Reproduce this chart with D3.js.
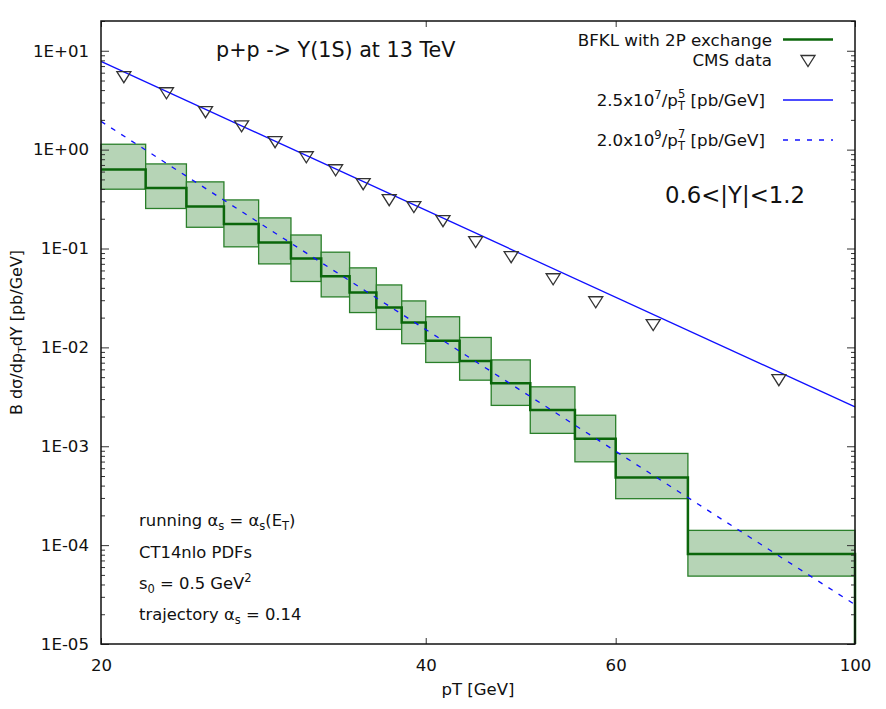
<!DOCTYPE html>
<html>
<head>
<meta charset="utf-8">
<script src="https://cdn.jsdelivr.net/npm/d3@7"></script>
<style>
  body { margin: 0; background: #fff; }
  text { font-family: "DejaVu Sans", Verdana, sans-serif; fill: #111; }
</style>
</head>
<body>
<div id="chart"></div>
<script>
///// DATA /////
var binEdges = [20, 22, 24, 26, 28, 30, 32, 34, 36, 38, 40, 43, 46, 50, 55, 60, 70, 100];
var bfklCentral = [0.629, 0.410, 0.266, 0.177, 0.115, 0.0792, 0.0525, 0.0359, 0.0253, 0.0178, 0.0117, 0.0073, 0.00435, 0.00232, 0.00119, 0.000484, 0.0000811];
var bfklUpper = [1.134, 0.717, 0.472, 0.310, 0.204, 0.137, 0.0918, 0.0637, 0.0428, 0.0295, 0.0204, 0.0126, 0.00747, 0.00399, 0.00206, 0.000846, 0.000141];
var bfklLower = [0.398, 0.254, 0.164, 0.104, 0.0699, 0.0464, 0.0324, 0.0225, 0.0152, 0.0109, 0.00704, 0.00466, 0.00259, 0.00135, 0.000696, 0.000295, 0.0000486];

var cmsPt = [21, 23, 25, 27, 29, 31, 33, 35, 37, 39, 41.5, 44.5, 48, 52.5, 57.5, 65, 85];
var cmsVal = [5.40, 3.72, 2.39, 1.72, 1.19, 0.838, 0.619, 0.447, 0.308, 0.262, 0.189, 0.116, 0.0817, 0.0489, 0.0286, 0.0168, 0.00466];

var fitPt = [20, 100];
var fitSolid = [7.8, 0.0025];      // 2.5x10^7 / pT^5
var fitDashed = [1.93, 0.000025];  // 2.0x10^9 / pT^7 curve as drawn

var xTicks = [20, 40, 60, 100];
var yMajor = [1e-5, 1e-4, 1e-3, 1e-2, 1e-1, 1, 10];

///// CANVAS /////
var width = 886;
var height = 709;
var margin = { top: 21, right: 31, bottom: 65, left: 101 };

var svg = d3.select("#chart").append("svg")
  .attr("width", width)
  .attr("height", height);

var innerW = width - margin.left - margin.right;
var innerH = height - margin.top - margin.bottom;

var x = d3.scaleLog().domain([20, 100]).range([margin.left, margin.left + innerW]);
var y = d3.scaleLog().domain([1e-5, 20]).range([margin.top + innerH, margin.top]);

var green = "#2a7f2a";
var darkGreen = "#0b660b";
var boxFill = "#b6d4b6";

// helper for text with sub/superscripts
function richText(g, px, py, parts, size, anchor) {
  var t = g.append("text").attr("x", px).attr("y", py).style("font-size", size + "px");
  parts.forEach(function (p) {
    var s = t.append("tspan").text(p.t);
    if (p.dy) s.attr("dy", p.dy);
    if (p.dx) s.attr("dx", p.dx);
    if (p.size) s.style("font-size", p.size + "px");
  });
  if (anchor === "end") {
    var w = t.node().getComputedTextLength();
    t.attr("x", px - w);
  }
  return t;
}

///// BOXES /////
var plot = svg.append("g");

var bins = bfklCentral.map(function (c, i) {
  return { lo: binEdges[i], hi: binEdges[i + 1], c: c, up: bfklUpper[i], dn: bfklLower[i] };
});

plot.selectAll("rect.band")
  .data(bins)
  .enter().append("rect")
  .attr("class", "band")
  .attr("x", function (d) { return x(d.lo); })
  .attr("width", function (d) { return x(d.hi) - x(d.lo); })
  .attr("y", function (d) { return y(d.up); })
  .attr("height", function (d) { return y(d.dn) - y(d.up); })
  .attr("fill", boxFill)
  .attr("stroke", green)
  .attr("stroke-width", 1.3);

// central step line
var stepPts = bins.map(function (d) { return [d.lo, d.c]; });
stepPts.push([100, bfklCentral[bfklCentral.length - 1]]);
stepPts.push([100, 1e-5]);

plot.append("path")
  .datum(stepPts)
  .attr("fill", "none")
  .attr("stroke", darkGreen)
  .attr("stroke-width", 2.5)
  .attr("d", d3.line()
    .x(function (d) { return x(d[0]); })
    .y(function (d) { return y(d[1]); })
    .curve(d3.curveStepAfter));

///// FIT LINES /////
var fitLine = d3.line()
  .x(function (d) { return x(d[0]); })
  .y(function (d) { return y(d[1]); });

plot.append("path")
  .datum(fitPt.map(function (p, i) { return [p, fitSolid[i]]; }))
  .attr("fill", "none")
  .attr("stroke", "#1010ff")
  .attr("stroke-width", 1.3)
  .attr("d", fitLine);

plot.append("path")
  .datum(fitPt.map(function (p, i) { return [p, fitDashed[i]]; }))
  .attr("fill", "none")
  .attr("stroke", "#1010ff")
  .attr("stroke-width", 1.3)
  .attr("stroke-dasharray", "5,7")
  .attr("d", fitLine);

///// CMS POINTS /////
var tri = "M-7,-5.5L7,-5.5L0,5.5Z";
plot.selectAll("path.cms")
  .data(cmsPt)
  .enter().append("path")
  .attr("class", "cms")
  .attr("d", tri)
  .attr("transform", function (d, i) { return "translate(" + x(d) + "," + y(cmsVal[i]) + ")"; })
  .attr("fill", "none")
  .attr("stroke", "#333")
  .attr("stroke-width", 1.3);

///// AXES /////
function yFmt(d) {
  var e = Math.round(Math.log10(d));
  return "1E" + (e < 0 ? "-" : "+") + (Math.abs(e) < 10 ? "0" : "") + Math.abs(e);
}

var yMinor = y.ticks().filter(function (v) {
  return yMajor.indexOf(v) < 0;
});

svg.append("g")
  .attr("transform", "translate(" + margin.left + ",0)")
  .call(d3.axisLeft(y).tickValues(yMajor).tickSize(-8).tickPadding(12).tickFormat(yFmt))
  .call(function (g) { g.select(".domain").remove(); });

svg.append("g")
  .attr("transform", "translate(" + margin.left + ",0)")
  .call(d3.axisLeft(y).tickValues(yMinor).tickSize(-4).tickFormat(""))
  .call(function (g) { g.select(".domain").remove(); });

svg.append("g")
  .attr("transform", "translate(" + (margin.left + innerW) + ",0)")
  .call(d3.axisRight(y).tickValues(yMajor).tickSize(-8).tickFormat(""))
  .call(function (g) { g.select(".domain").remove(); });

svg.append("g")
  .attr("transform", "translate(" + (margin.left + innerW) + ",0)")
  .call(d3.axisRight(y).tickValues(yMinor).tickSize(-4).tickFormat(""))
  .call(function (g) { g.select(".domain").remove(); });

svg.append("g")
  .attr("transform", "translate(0," + (margin.top + innerH) + ")")
  .call(d3.axisBottom(x).tickValues(xTicks).tickSize(-6).tickPadding(15).tickFormat(d3.format("d")))
  .call(function (g) { g.select(".domain").remove(); });

svg.append("g")
  .attr("transform", "translate(0," + margin.top + ")")
  .call(d3.axisTop(x).tickValues(xTicks).tickSize(-6).tickFormat(""))
  .call(function (g) { g.select(".domain").remove(); });

svg.selectAll(".tick line").attr("stroke", "#333");
svg.selectAll(".tick text")
  .style("font-size", "16.6px")
  .style("font-family", "'DejaVu Sans', Verdana, sans-serif")
  .attr("fill", "#111");

// frame
svg.append("rect")
  .attr("x", margin.left)
  .attr("y", margin.top)
  .attr("width", innerW)
  .attr("height", innerH)
  .attr("fill", "none")
  .attr("stroke", "#111")
  .attr("stroke-width", 1.5);

///// LABELS /////
svg.append("text")
  .attr("x", x(Math.sqrt(20 * 100)))
  .attr("y", 695)
  .attr("text-anchor", "middle")
  .style("font-size", "16.5px")
  .text("pT [GeV]");

richText(svg, 0, 0, [
  { t: "B dσ/dp" },
  { t: "T", dy: 4, size: 11 },
  { t: "dY [pb/GeV]", dy: -4 }
], 16).attr("text-anchor", "middle")
  .attr("transform", "translate(22," + (margin.top + innerH / 2) + ") rotate(-90)");

svg.append("text")
  .attr("x", 216)
  .attr("y", 57)
  .style("font-size", "20.7px")
  .text("p+p -> Y(1S) at 13 TeV");

svg.append("text")
  .attr("x", 805)
  .attr("y", 203)
  .attr("text-anchor", "end")
  .style("font-size", "22.8px")
  .text("0.6<|Y|<1.2");

///// LEGEND /////
var lx = 772;
var lf = 16.7;
svg.append("text").attr("x", lx).attr("y", 46).attr("text-anchor", "end")
  .style("font-size", lf + "px").text("BFKL with 2P exchange");
svg.append("line").attr("x1", 783).attr("x2", 833).attr("y1", 39.5).attr("y2", 39.5)
  .attr("stroke", darkGreen).attr("stroke-width", 2.5);

svg.append("text").attr("x", lx).attr("y", 66).attr("text-anchor", "end")
  .style("font-size", lf + "px").text("CMS data");
svg.append("path").attr("d", tri).attr("transform", "translate(808,61)")
  .attr("fill", "none").attr("stroke", "#333").attr("stroke-width", 1.3);

richText(svg, lx, 106, [
  { t: "2.5x10" },
  { t: "7", dy: -7, size: 11.5 },
  { t: "/p", dy: 7 },
  { t: "T", dy: 4, size: 11.5 },
  { t: "5", dx: -7, dy: -12, size: 11.5 },
  { t: " [pb/GeV]", dy: 8 }
], lf, "end");
svg.append("line").attr("x1", 783).attr("x2", 833).attr("y1", 100).attr("y2", 100)
  .attr("stroke", "#1010ff").attr("stroke-width", 1.3);

richText(svg, lx, 146, [
  { t: "2.0x10" },
  { t: "9", dy: -7, size: 11.5 },
  { t: "/p", dy: 7 },
  { t: "T", dy: 4, size: 11.5 },
  { t: "7", dx: -7, dy: -12, size: 11.5 },
  { t: " [pb/GeV]", dy: 8 }
], lf, "end");
svg.append("line").attr("x1", 783).attr("x2", 833).attr("y1", 140).attr("y2", 140)
  .attr("stroke", "#1010ff").attr("stroke-width", 1.3).attr("stroke-dasharray", "5,7");

///// NOTES /////
var nf = 16.4;
richText(svg, 139, 526, [
  { t: "running α" },
  { t: "s", dy: 4, size: 11.5 },
  { t: " = α", dy: -4 },
  { t: "s", dy: 4, size: 11.5 },
  { t: "(E", dy: -4 },
  { t: "T", dy: 4, size: 11.5 },
  { t: ")", dy: -4 }
], nf);

svg.append("text").attr("x", 139).attr("y", 558)
  .style("font-size", nf + "px").text("CT14nlo PDFs");

richText(svg, 139, 589, [
  { t: "s" },
  { t: "0", dy: 4, size: 11.5 },
  { t: " = 0.5 GeV", dy: -4 },
  { t: "2", dy: -7, size: 11.5 }
], nf);

richText(svg, 139, 620, [
  { t: "trajectory α" },
  { t: "s", dy: 4, size: 11.5 },
  { t: " = 0.14", dy: -4 }
], nf);
</script>
</body>
</html>
